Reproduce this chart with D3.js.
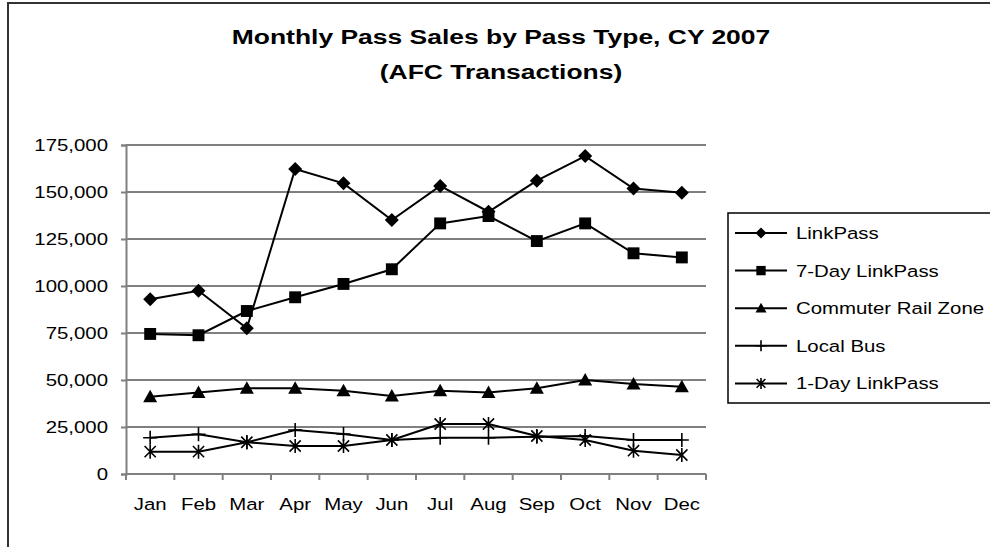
<!DOCTYPE html>
<html>
<head>
<meta charset="utf-8">
<script src="https://cdn.jsdelivr.net/npm/d3@7"></script>
<style>
  body { margin: 0; background: #fff; }
  svg text { font-family: "Liberation Sans", Arial, sans-serif; fill: #000; }
</style>
</head>
<body>
<svg id="chart" width="990" height="547"></svg>
<script>
// data
const months = ["Jan","Feb","Mar","Apr","May","Jun","Jul","Aug","Sep","Oct","Nov","Dec"];
const seriesNames = ["LinkPass","7-Day LinkPass","Commuter Rail Zone","Local Bus","1-Day LinkPass"];
const linkPass      = [93000, 97500, 77500, 162200, 154600, 135100, 153200, 139500, 156000, 169100, 151800, 149600];
const sevenDay      = [74500, 73800, 86700, 94000, 101100, 108900, 133300, 137200, 123900, 133300, 117400, 115200];
const commuterRail  = [41100, 43400, 45600, 45600, 44300, 41500, 44300, 43400, 45600, 50000, 47900, 46400];
const localBus      = [19300, 21100, 16900, 23400, 21300, 18100, 19300, 19300, 19800, 20200, 18100, 18100];
const oneDay        = [11900, 11900, 16900, 14900, 14900, 18100, 26600, 26600, 20200, 18100, 12400, 10100];
const yTicks = [0, 25000, 50000, 75000, 100000, 125000, 150000, 175000];
const markers = ["diamond","square","triangle","plus","asterisk"];

const allSeries = [linkPass, sevenDay, commuterRail, localBus, oneDay];

const svg = d3.select("#chart");
const plot = {left: 126, top: 145, right: 706, bottom: 474};

// the reference font is drawn wider than Arial: scale glyphs horizontally around the anchor x
function stretch(sel, k) {
  sel.each(function() {
    const ax = +d3.select(this).attr("x") || 0;
    d3.select(this).attr("transform", `translate(${ax},0) scale(${k},1) translate(${-ax},0)`);
  });
}

// outer chart frame
svg.append("path")
  .attr("d", "M8,548 L8,3 L992,3")
  .attr("fill", "none")
  .attr("stroke", "#333")
  .attr("stroke-width", 2);

// title
const t1 = svg.append("text")
  .attr("x", 501).attr("y", 44)
  .attr("text-anchor", "middle")
  .style("font-size", "21px").style("font-weight", "bold")
  .text("Monthly Pass Sales by Pass Type, CY 2007");
const t2 = svg.append("text")
  .attr("x", 501).attr("y", 79)
  .attr("text-anchor", "middle")
  .style("font-size", "21px").style("font-weight", "bold")
  .text("(AFC Transactions)");
stretch(t1, 1.26);
stretch(t2, 1.26);

const x = d3.scaleBand().domain(months).range([plot.left, plot.right]);
const y = d3.scaleLinear().domain([0, 175000]).range([plot.bottom, plot.top]);

// gridlines
svg.append("g")
  .selectAll("line")
  .data(yTicks.filter(d => d > 0))
  .enter().append("line")
  .attr("x1", plot.left).attr("x2", plot.right)
  .attr("y1", d => y(d)).attr("y2", d => y(d))
  .attr("stroke", d => d === 175000 ? "#808080" : "#000")
  .attr("stroke-width", d => d === 175000 ? 2 : 1);

// y axis
const yAxis = svg.append("g")
  .attr("transform", `translate(${plot.left},0)`)
  .call(d3.axisLeft(y).tickValues(yTicks).tickSize(5).tickPadding(13)
    .tickFormat(d3.format(",")));
yAxis.attr("font-family", null).attr("font-size", null);
yAxis.select(".domain").attr("stroke", "#808080").attr("stroke-width", 2);
yAxis.selectAll(".tick line").attr("stroke", "#808080").attr("stroke-width", 2);
yAxis.selectAll("text").style("font-size", "17px").call(stretch, 1.2);

// x axis - ticks on category boundaries
const xAxisG = svg.append("g").attr("transform", `translate(0,${plot.bottom})`);
xAxisG.append("line")
  .attr("x1", plot.left).attr("x2", plot.right)
  .attr("stroke", "#808080").attr("stroke-width", 2);
xAxisG.selectAll(".bt")
  .data(months.concat(["end"]))
  .enter().append("line")
  .attr("x1", (d, i) => plot.left + i * x.step())
  .attr("x2", (d, i) => plot.left + i * x.step())
  .attr("y1", 0).attr("y2", 6)
  .attr("stroke", "#808080").attr("stroke-width", 2);
xAxisG.selectAll("text")
  .data(months)
  .enter().append("text")
  .attr("x", d => x(d) + x.bandwidth() / 2)
  .attr("y", 36)
  .attr("text-anchor", "middle")
  .style("font-size", "17px")
  .text(d => d)
  .call(stretch, 1.2);

// marker drawing
function drawMarker(g, type, cx, cy, s) {
  if (type === "diamond") {
    g.append("path").attr("d", `M${cx},${cy - s} L${cx + s},${cy} L${cx},${cy + s} L${cx - s},${cy} Z`).attr("fill", "#000");
  } else if (type === "square") {
    g.append("rect").attr("x", cx - s * 0.85).attr("y", cy - s * 0.85)
      .attr("width", s * 1.7).attr("height", s * 1.7).attr("fill", "#000");
  } else if (type === "triangle") {
    g.append("path").attr("d", `M${cx},${cy - s} L${cx + s},${cy + s * 0.8} L${cx - s},${cy + s * 0.8} Z`).attr("fill", "#000");
  } else if (type === "plus") {
    g.append("path").attr("d", `M${cx - s},${cy} L${cx + s},${cy} M${cx},${cy - s} L${cx},${cy + s}`)
      .attr("stroke", "#000").attr("stroke-width", 1.6);
  } else if (type === "asterisk") {
    const d = s * 0.8;
    g.append("path").attr("d", `M${cx - d},${cy - d} L${cx + d},${cy + d} M${cx - d},${cy + d} L${cx + d},${cy - d} M${cx},${cy - s} L${cx},${cy + s}`)
      .attr("stroke", "#000").attr("stroke-width", 1.6);
  }
}

const line = d3.line()
  .x((d, i) => x(months[i]) + x.bandwidth() / 2)
  .y(d => y(d));

allSeries.forEach((vals, si) => {
  const g = svg.append("g");
  g.append("path")
    .attr("d", line(vals))
    .attr("fill", "none")
    .attr("stroke", "#000")
    .attr("stroke-width", 2);
  vals.forEach((v, i) => {
    drawMarker(g, markers[si], x(months[i]) + x.bandwidth() / 2, y(v), 7);
  });
});

// legend
const legend = svg.append("g");
legend.append("rect")
  .attr("x", 728).attr("y", 213)
  .attr("width", 280).attr("height", 190)
  .attr("fill", "#fff").attr("stroke", "#000").attr("stroke-width", 1.5);

seriesNames.forEach((name, i) => {
  const ly = 233 + i * 37.6;
  const lg = legend.append("g");
  lg.append("line")
    .attr("x1", 735).attr("x2", 787)
    .attr("y1", ly).attr("y2", ly)
    .attr("stroke", "#000").attr("stroke-width", 2);
  drawMarker(lg, markers[i], 761, ly, 5.5);
  lg.append("text")
    .attr("x", 796).attr("y", ly)
    .attr("dy", "0.35em")
    .style("font-size", "17px")
    .text(name)
    .call(stretch, 1.2);
});
</script>
</body>
</html>
